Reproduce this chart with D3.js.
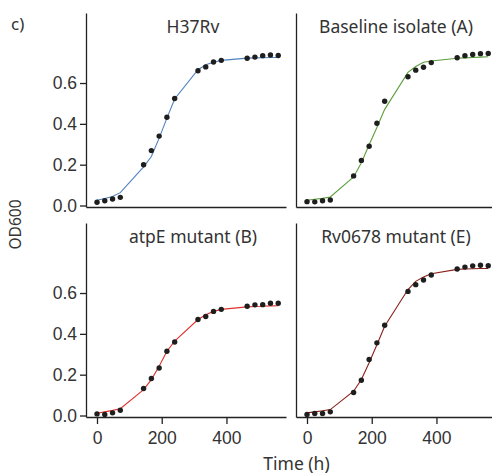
<!DOCTYPE html>
<html>
<head>
<meta charset="utf-8">
<script src="https://cdn.jsdelivr.net/npm/d3@7"></script>
<style>
  body { margin: 0; background: #fff; }
  svg { display: block; font-family: "Noto Sans", sans-serif; }
</style>
</head>
<body>
<svg width="492" height="476"></svg>
<script>
// sampling times (h)
var times = [0, 24, 48, 72, 144, 168, 192, 216, 240, 312, 336, 360, 384, 464, 488, 512, 536, 560];

var titles = ["H37Rv", "Baseline isolate (A)", "atpE mutant (B)", "Rv0678 mutant (E)"];

// measured OD600 (dots)
var h37rvOD = [0.016, 0.023, 0.032, 0.040, 0.200, 0.269, 0.340, 0.432, 0.524, 0.660, 0.679, 0.703, 0.711, 0.721, 0.727, 0.734, 0.737, 0.735];
var baselineOD = [0.019, 0.018, 0.023, 0.027, 0.145, 0.221, 0.290, 0.403, 0.511, 0.631, 0.663, 0.677, 0.700, 0.724, 0.734, 0.740, 0.744, 0.745];
var atpeOD = [0.008, 0.005, 0.013, 0.026, 0.132, 0.181, 0.233, 0.315, 0.360, 0.470, 0.485, 0.510, 0.520, 0.535, 0.542, 0.543, 0.550, 0.550];
var rv0678OD = [0.005, 0.010, 0.010, 0.018, 0.113, 0.173, 0.274, 0.356, 0.442, 0.608, 0.641, 0.664, 0.688, 0.718, 0.727, 0.733, 0.736, 0.734];

// fitted curves (lines)
var h37rvFit = [0.026, 0.034, 0.044, 0.063, 0.189, 0.240, 0.330, 0.428, 0.522, 0.665, 0.689, 0.702, 0.711, 0.722, 0.723, 0.724, 0.725, 0.725];
var baselineFit = [0.026, 0.031, 0.035, 0.042, 0.140, 0.210, 0.298, 0.382, 0.471, 0.652, 0.681, 0.702, 0.708, 0.721, 0.723, 0.725, 0.727, 0.729];
var atpeFit = [0.011, 0.018, 0.025, 0.033, 0.127, 0.176, 0.241, 0.315, 0.364, 0.470, 0.494, 0.510, 0.520, 0.532, 0.534, 0.535, 0.537, 0.538];
var rv0678Fit = [0.013, 0.018, 0.023, 0.029, 0.119, 0.176, 0.258, 0.347, 0.437, 0.617, 0.657, 0.679, 0.694, 0.716, 0.718, 0.719, 0.720, 0.720];

var yTicks = [0, 0.2, 0.4, 0.6];
var xTicks = [0, 200, 400];

var odSeries = [h37rvOD, baselineOD, atpeOD, rv0678OD];
var fitSeries = [h37rvFit, baselineFit, atpeFit, rv0678Fit];
var lineColors = ["#4f82bd", "#5c9e3c", "#e2322f", "#8a1f1a"];

var svg = d3.select("svg");
var fs = 17.5;

// panel layout: left edge of x-axis, top of y-axis
var panelW = 200, panelH = 194;
var panels = [
    { left: 86, top: 13, yAxis: true, xAxis: false, titleX: 193 },
    { left: 296, top: 13, yAxis: false, xAxis: false, titleX: 396 },
    { left: 86, top: 223, yAxis: true, xAxis: true, titleX: 193 },
    { left: 296, top: 223, yAxis: false, xAxis: true, titleX: 396 }
];

panels.forEach(function (p, i) {
    var x = d3.scaleLinear().domain([-34, 584]).range([p.left, p.left + panelW]);
    var y = d3.scaleLinear().domain([-0.0073, 0.943]).range([p.top + panelH, p.top]);

    var g = svg.append("g");

    // fitted line
    g.append("path")
        .datum(times.map(function (t, j) { return [t, fitSeries[i][j]]; }))
        .attr("fill", "none")
        .attr("stroke", lineColors[i])
        .attr("stroke-width", 1.1)
        .attr("d", d3.line().x(function (d) { return x(d[0]); }).y(function (d) { return y(d[1]); }));

    // observed points
    g.selectAll("circle")
        .data(times.map(function (t, j) { return [t, odSeries[i][j]]; }))
        .enter()
        .append("circle")
        .attr("cx", function (d) { return x(d[0]); })
        .attr("cy", function (d) { return y(d[1]); })
        .attr("r", 2.7)
        .attr("fill", "#1e1e1e");

    var yAxis = d3.axisLeft(y).tickValues(p.yAxis ? yTicks : []).tickSize(6).tickPadding(3)
        .tickFormat(d3.format(".1f")).tickSizeOuter(0);
    var ya = g.append("g")
        .attr("transform", "translate(" + p.left + ",0)")
        .call(yAxis);

    var xAxis = d3.axisBottom(x).tickValues(p.xAxis ? xTicks : []).tickSize(7).tickPadding(8).tickSizeOuter(0);
    var xa = g.append("g")
        .attr("transform", "translate(0," + (p.top + panelH) + ")")
        .call(xAxis);

    [ya, xa].forEach(function (a) {
        a.select(".domain").attr("stroke", "#222").attr("stroke-width", 1.3);
        a.selectAll(".tick line").attr("stroke", "#222").attr("stroke-width", 1.3);
        a.selectAll(".tick text").attr("fill", "#333").style("font-size", fs + "px");
    });

    g.append("text")
        .attr("x", p.titleX)
        .attr("y", p.top + 20)
        .attr("text-anchor", "middle")
        .attr("fill", "#333")
        .style("font-size", fs + "px")
        .text(titles[i]);
});

svg.append("text")
    .attr("x", 11)
    .attr("y", 30)
    .attr("fill", "#333")
    .style("font-size", "17px")
    .text("c)");

svg.append("text")
    .attr("transform", "translate(21,224.5) rotate(-90)")
    .attr("text-anchor", "middle")
    .attr("fill", "#333")
    .style("font-size", "15.5px")
    .text("OD600");

svg.append("text")
    .attr("x", 296.5)
    .attr("y", 470)
    .attr("text-anchor", "middle")
    .attr("fill", "#333")
    .style("font-size", fs + "px")
    .text("Time (h)");
</script>
</body>
</html>
